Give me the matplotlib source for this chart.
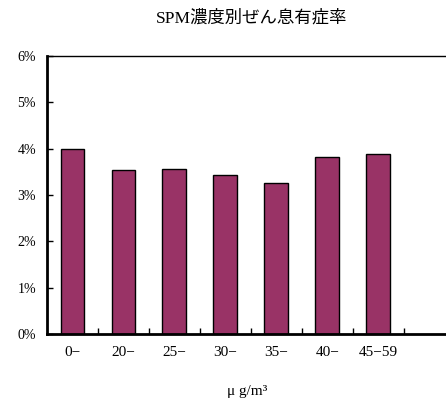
import numpy as np
import matplotlib.pyplot as plt
from matplotlib.ticker import FuncFormatter

# data
categories = ['0−', '20−', '25−', '30−', '35−', '40−', '45−59']
rates = [4.00, 3.53, 3.56, 3.43, 3.26, 3.82, 3.89]

plt.rcParams['font.family'] = ['Liberation Serif', 'Noto Sans CJK JP']

fig = plt.figure(figsize=(4.46, 4.03), dpi=100)
ax = fig.add_axes([47 / 446, 1 - 334 / 403, 1 - 47 / 446 + 0.02, 278 / 403])

x = np.arange(len(categories))
ax.bar(x, rates, width=0.47, color='#993366', edgecolor='black', linewidth=1.0)

ax.set_xlim(-0.5, 7.5)
ax.set_ylim(0, 6)

# labels at bar centres, small tick marks at category boundaries
ax.set_xticks(x)
ax.set_xticklabels(categories, fontsize=11)
ax.tick_params(axis='x', which='major', length=0, pad=9)
ax.set_xticks(np.arange(0.5, 7, 1.0), minor=True)
ax.tick_params(axis='x', which='minor', direction='in', length=4, width=1)

ax.set_yticks(np.arange(0, 7, 1))
ax.yaxis.set_major_formatter(FuncFormatter(lambda v, p: f'{int(v)}%'))
ax.tick_params(axis='y', direction='in', length=4, width=1, labelsize=10, pad=8)

ax.spines['left'].set_linewidth(2)
ax.spines['bottom'].set_linewidth(2)
ax.spines['top'].set_linewidth(1)
ax.spines['right'].set_visible(False)

fig.text(252 / 446, 1 - 18 / 403, 'SPM濃度別ぜん息有症率', ha='center', va='center', fontsize=12.5)
fig.text(247 / 446, 1 - 392 / 403, 'μ g/m³', ha='center', va='center', fontsize=11)

fig.savefig('out.png', dpi=100)
